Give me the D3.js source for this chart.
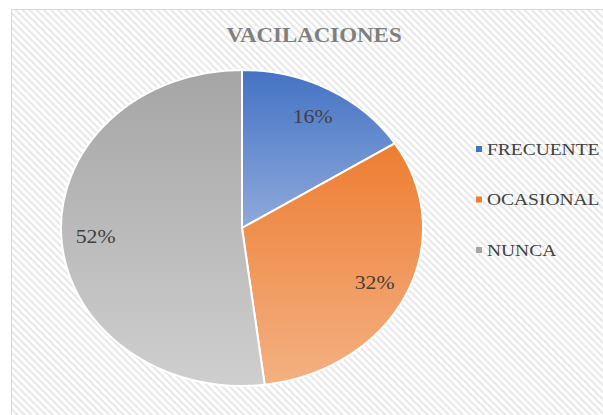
<!DOCTYPE html>
<html>
<head>
<meta charset="utf-8">
<script src="https://cdn.jsdelivr.net/npm/d3@7"></script>
<style>
  html, body { margin: 0; padding: 0; background: #fff; }
  svg { display: block; }
  text { font-family: 'Liberation Serif', 'Times New Roman', serif; }
</style>
</head>
<body>
<svg id="chart" width="603" height="415"></svg>
<script>
// chart data
const title = 'VACILACIONES';
const categories = ['FRECUENTE', 'OCASIONAL', 'NUNCA'];
const values = [16, 32, 52];
const labels = ['16%', '32%', '52%'];
const colorsTop = ['#4472c4', '#ed7d31', '#a5a5a5'];
const colorsBottom = ['#8faadc', '#f4b183', '#cfcfcf'];

const W = 603, H = 415;
const svg = d3.select('#chart');
const defs = svg.append('defs');

// the original picture is stretched horizontally
const cx = 242, cy = 228, ry = 158, rx = 181;
const sx = rx / ry;

// background hatch
const pat = defs.append('pattern')
  .attr('id', 'hatch')
  .attr('patternUnits', 'userSpaceOnUse')
  .attr('width', 5).attr('height', 5)
  .attr('patternTransform', 'rotate(45)');
pat.append('rect').attr('width', 5).attr('height', 5).attr('fill', '#ffffff');
pat.append('rect').attr('width', 5).attr('height', 2).attr('fill', '#e8e8e8');

svg.append('rect')
  .attr('x', 11.5).attr('y', 9.5)
  .attr('width', W).attr('height', H)
  .attr('fill', 'url(#hatch)')
  .attr('stroke', '#d9d9d9').attr('stroke-width', 1);

// title
svg.append('text')
  .attr('transform', `translate(314,42) scale(${sx},1)`)
  .attr('text-anchor', 'middle')
  .attr('font-weight', 'bold')
  .attr('font-size', 20)
  .attr('fill', '#7f7f7f')
  .text(title);

// gradients per slice
values.forEach((_, i) => {
  const g = defs.append('linearGradient')
    .attr('id', `grad-${i}`)
    .attr('x1', 0).attr('y1', 0).attr('x2', 0).attr('y2', 1);
  g.append('stop').attr('offset', '0%').attr('stop-color', colorsTop[i]);
  g.append('stop').attr('offset', '100%').attr('stop-color', colorsBottom[i]);
});

// pie
const pie = d3.pie().sort(null).value(d => d);
const arcs = pie(values);
const arc = d3.arc().innerRadius(0).outerRadius(ry);
const labelArc = d3.arc().innerRadius(ry * 0.81).outerRadius(ry * 0.81);

const gPie = svg.append('g')
  .attr('transform', `translate(${cx},${cy}) scale(${sx},1)`);

gPie.selectAll('path')
  .data(arcs)
  .join('path')
  .attr('d', arc)
  .attr('fill', (d, i) => `url(#grad-${i})`)
  .attr('stroke', '#ffffff')
  .attr('stroke-width', 2)
  .attr('vector-effect', 'non-scaling-stroke');

svg.append('g')
  .selectAll('text')
  .data(arcs)
  .join('text')
  .attr('transform', d => {
    const [x, y] = labelArc.centroid(d);
    return `translate(${cx + x * sx},${cy + y}) scale(${sx},1)`;
  })
  .attr('dy', '0.35em')
  .attr('text-anchor', 'middle')
  .attr('font-size', 19)
  .attr('fill', '#404040')
  .text((d, i) => labels[i]);

// legend
const legY = d3.scalePoint().domain(categories).range([149, 250]);
const leg = svg.append('g')
  .selectAll('g')
  .data(categories)
  .join('g')
  .attr('transform', d => `translate(476,${legY(d)})`);

leg.append('rect')
  .attr('x', 0).attr('y', -3)
  .attr('width', 6).attr('height', 6)
  .attr('fill', (d, i) => colorsTop[i]);

leg.append('text')
  .attr('transform', `translate(11,0) scale(${sx},1)`)
  .attr('dy', '0.35em')
  .attr('font-size', 17)
  .attr('fill', '#404040')
  .text(d => d);
</script>
</body>
</html>
